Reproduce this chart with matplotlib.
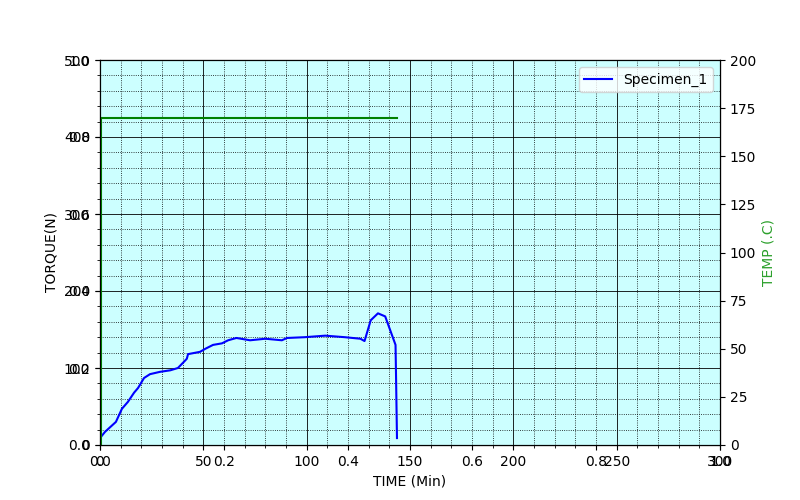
import matplotlib
matplotlib.use('Agg')
import matplotlib.pyplot as plt
from matplotlib.ticker import MultipleLocator

# torque curve (Specimen_1)
time_min = [0, 2.4, 7.7, 10.6, 13.5, 16.5, 18.4, 21.3, 24.2, 29, 34, 37.7, 40.6, 42, 42.6,
            48.4, 51, 54.7, 59, 62, 66, 72.6, 80, 88, 90.5, 99, 109, 118.5, 126, 128,
            131, 134.5, 138, 143, 143.2, 143.7]
torque = [9, 17, 30, 47, 56, 68, 74, 87, 92, 95, 97, 100, 108, 112, 118,
          121, 125, 130, 132, 136, 139, 136, 138, 136, 139, 140, 142, 140, 138, 135,
          162, 171, 167, 130, 97, 9]

# temperature curve
temp_time = [0.5, 0.5, 143.7]
temp = [0, 170, 170]

fig = plt.figure(figsize=(8, 5), dpi=100)
ax0 = fig.add_subplot(111)  # leftover default axes underneath
ax = fig.add_axes(ax0.get_position())
ax.set_facecolor('#ccffff')

ax.plot(time_min, torque, color='blue', label='Specimen_1')
ax.set_xlim(0, 300)
ax.set_ylim(0, 500)
ax.set_xlabel('TIME (Min)')
ax.set_ylabel('TORQUE(N)')
ax.xaxis.set_minor_locator(MultipleLocator(10))
ax.yaxis.set_minor_locator(MultipleLocator(20))
ax.grid(which='major', color='black', linestyle='-', linewidth=0.6)
ax.grid(which='minor', color='black', linestyle=':', linewidth=0.6)
ax.legend(loc='upper right')

ax2 = ax.twinx()
ax2.plot(temp_time, temp, color='green')
ax2.set_ylim(0, 200)
ax2.set_ylabel('TEMP (.C)', color='tab:green')

fig.savefig('out.png')
